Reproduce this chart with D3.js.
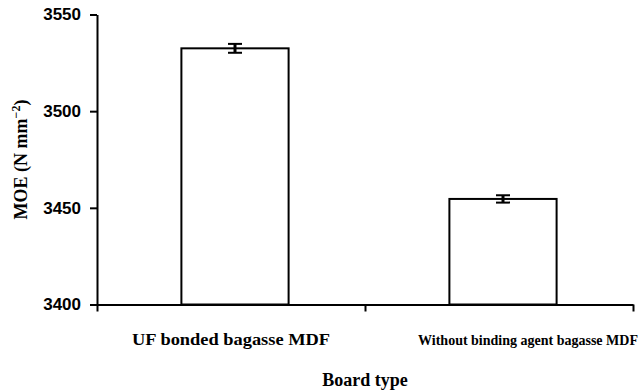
<!DOCTYPE html>
<meta charset="utf-8">
<head>
  <script src="https://d3js.org/d3.v7.min.js"></script>
  <style>
    body { margin: 0; background: #fff; }
    svg { display: block; }
  </style>
</head>
<body>
<div id="container"></div>
<script>
// data
var boardTypes = ["UF bonded bagasse MDF", "Without binding agent bagasse MDF"];
var moeValues = [3532.5, 3454.6];
var moeErrors = [2.3, 1.9];
var yTicks = [3400, 3450, 3500, 3550];

var width = 644, height = 392;
var plotLeft = 97, plotRight = 633, plotTop = 14.5, plotBottom = 304.5;

var svg = d3.select("#container")
  .append("svg")
  .attr("width", width)
  .attr("height", height);

var y = d3.scaleLinear().domain([3400, 3550]).range([plotBottom, plotTop]);
var x = d3.scaleBand().domain(boardTypes).range([plotLeft, plotRight]).padding(0);
// tick marks sit at the category boundaries, not at the centres
var xEdge = d3.scaleLinear().domain([0, boardTypes.length]).range([plotLeft, plotRight]);

// bars (slightly right of the band centre, like the original)
var barW = x.bandwidth() * 0.4;
var barShift = 4;
function cx(d) { return x(d) + x.bandwidth() / 2 + barShift; }

svg.selectAll("rect.bar")
  .data(boardTypes)
  .enter().append("rect")
  .attr("class", "bar")
  .attr("x", function (d) { return cx(d) - barW / 2; })
  .attr("y", function (d, i) { return y(moeValues[i]); })
  .attr("width", barW)
  .attr("height", function (d, i) { return plotBottom - y(moeValues[i]); })
  .attr("fill", "#fff")
  .attr("stroke", "#000")
  .attr("stroke-width", 2);

// error bars
var err = svg.selectAll("g.err")
  .data(boardTypes)
  .enter().append("g")
  .attr("class", "err");
err.append("line")
  .attr("x1", cx).attr("x2", cx)
  .attr("y1", function (d, i) { return y(moeValues[i] + moeErrors[i]); })
  .attr("y2", function (d, i) { return y(moeValues[i] - moeErrors[i]); })
  .attr("stroke", "#000").attr("stroke-width", 3);
[1, -1].forEach(function (s) {
  err.append("line")
    .attr("x1", function (d) { return cx(d) - 7; })
    .attr("x2", function (d) { return cx(d) + 7; })
    .attr("y1", function (d, i) { return y(moeValues[i] + s * moeErrors[i]); })
    .attr("y2", function (d, i) { return y(moeValues[i] + s * moeErrors[i]); })
    .attr("stroke", "#000").attr("stroke-width", 2);
});

// y axis
var yAxis = svg.append("g")
  .attr("transform", "translate(" + plotLeft + ",0)")
  .call(d3.axisLeft(y).tickValues(yTicks).tickSize(7).tickSizeOuter(0).tickPadding(9).tickFormat(d3.format("d")));
yAxis.select(".domain").attr("stroke-width", 2);
yAxis.selectAll(".tick line").attr("stroke-width", 2);
yAxis.selectAll(".tick text")
  .attr("font-family", "'Liberation Sans', Arial, sans-serif")
  .attr("font-weight", "bold")
  .attr("font-size", 17)
  .attr("fill", "#000");

// x axis
var xAxis = svg.append("g")
  .attr("transform", "translate(0," + plotBottom + ")")
  .call(d3.axisBottom(xEdge).tickValues(d3.range(boardTypes.length + 1)).tickSize(7).tickSizeOuter(0).tickFormat(""));
xAxis.select(".domain").attr("stroke-width", 2);
xAxis.selectAll(".tick line").attr("stroke-width", 2);

// category labels (the second one sits right of its band centre in the original)
var labelShift = [0, 29];
var labelSize = [16, 14];
var cats = svg.selectAll("text.cat")
  .data(boardTypes)
  .enter().append("text")
  .attr("class", "cat")
  .attr("x", function (d, i) { return x(d) + x.bandwidth() / 2 + labelShift[i]; })
  .attr("y", 345)
  .attr("text-anchor", "middle")
  .attr("font-family", "'Liberation Serif', 'Times New Roman', serif")
  .attr("font-weight", "bold")
  .attr("font-size", function (d, i) { return labelSize[i]; })
  .text(function (d) { return d; });
// first label is drawn wider in the original
cats.filter(function (d, i) { return i === 0; })
  .attr("textLength", 198)
  .attr("lengthAdjust", "spacingAndGlyphs");

// axis titles
svg.append("text")
  .attr("x", (plotLeft + plotRight) / 2)
  .attr("y", 386)
  .attr("text-anchor", "middle")
  .attr("font-family", "'Liberation Serif', 'Times New Roman', serif")
  .attr("font-weight", "bold")
  .attr("font-size", 18)
  .text("Board type");

var yTitle = svg.append("text")
  .attr("transform", "translate(27," + (plotTop + plotBottom) / 2 + ") rotate(-90)")
  .attr("text-anchor", "middle")
  .attr("font-family", "'Liberation Serif', 'Times New Roman', serif")
  .attr("font-weight", "bold")
  .attr("font-size", 18);
yTitle.append("tspan").text("MOE (N mm");
yTitle.append("tspan").attr("dy", -7).attr("font-size", 12).text("\u22122");
yTitle.append("tspan").attr("dy", 7).text(")");
</script>
</body>
